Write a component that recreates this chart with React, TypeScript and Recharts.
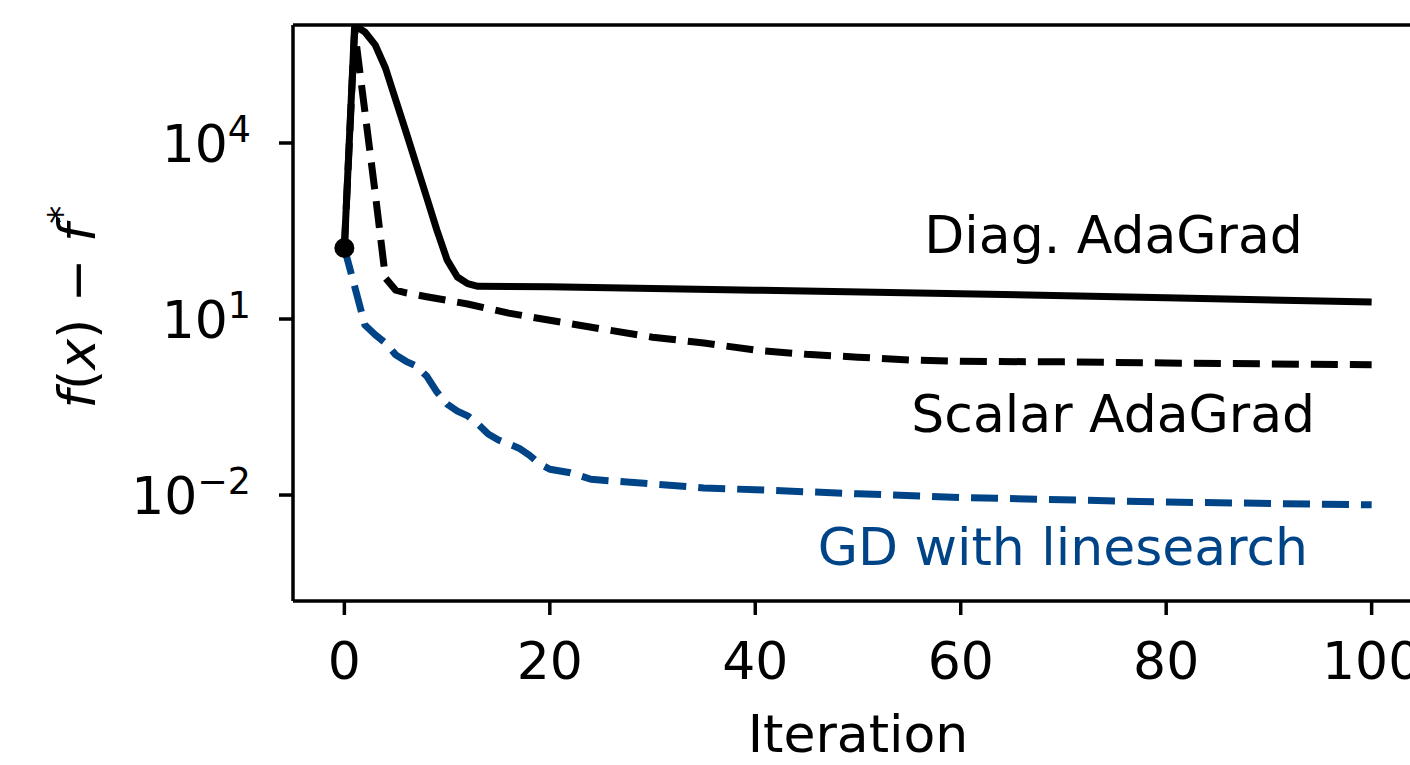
import React from "react";
import { LineChart, Line, XAxis, YAxis, ReferenceLine, ReferenceDot } from "recharts";

const FONT = "DejaVu Sans, Liberation Sans, sans-serif";
const BLUE = "#004488";
const FS = 52;

// iteration / f(x) - f* pairs
const diagIter = [0, 1, 2, 3, 4, 5, 6, 7, 8, 9, 10, 11, 12, 13, 20, 40, 60, 80, 100];
const diagGap = [162, 1.0e6, 7.8e5, 4.7e5, 1.9e5, 5.4e4, 1.55e4, 4.3e3, 1.2e3, 330, 102, 52, 40, 36, 35.5, 31, 27, 23, 19.5];

const scalarIter = [0, 1, 2, 3, 4, 5, 6, 8, 12, 16, 20, 25, 30, 35, 40, 45, 50, 55, 60, 70, 80, 100];
const scalarGap = [162, 8.3e5, 3.4e4, 1.4e3, 50, 31, 28, 24, 18, 12.6, 9.5, 6.8, 4.9, 3.9, 2.95, 2.5, 2.24, 2.0, 1.9, 1.86, 1.78, 1.66];

const gdIter = [0, 1, 2, 3, 4, 5, 6, 7, 8, 9, 10, 11, 12, 13, 14, 15, 16, 17, 18, 19, 20, 22, 24, 26, 30, 35, 40, 50, 60, 80, 100];
const gdGap = [162, 36, 7.9, 5.4, 3.9, 2.45, 1.9, 1.58, 1.07, 0.575, 0.355, 0.27, 0.224, 0.162, 0.11, 0.087, 0.074, 0.063, 0.048, 0.034, 0.0275, 0.024, 0.0186, 0.0174, 0.0155, 0.0132, 0.0123, 0.0105, 0.0091, 0.0076, 0.0068];

const xTicks = [0, 20, 40, 60, 80, 100];
const yTicks = [1e-2, 1e1, 1e4];
const yExp = ["−2", "1", "4"];

const X_DOMAIN = [-5, 105];
const Y_MIN = Math.pow(10, -3.806);
const Y_MAX = Math.pow(10, 6.011);

const toRows = (xs: number[], ys: number[]) => xs.map((x, i) => ({ x, y: ys[i] }));
const diagData = toRows(diagIter, diagGap);
const scalarData = toRows(scalarIter, scalarGap);
const gdData = toRows(gdIter, gdGap);

const XTick = ({ x, y, payload }: any) => (
  <text x={x} y={y + 64} textAnchor="middle" fontSize={FS} fontFamily={FONT} fill="#000">
    {payload.value}
  </text>
);

const YTick = ({ x, y, payload }: any) => {
  const i = yTicks.indexOf(payload.value);
  return (
    <text x={x - 28} y={y + 19} textAnchor="end" fontSize={FS} fontFamily={FONT} fill="#000">
      10
      <tspan dy={-20} fontSize={FS * 0.7}>
        {yExp[i]}
      </tspan>
    </text>
  );
};

const textLabel = (text: string, color: string) => (p: any) => {
  const vb = p.viewBox || {};
  return (
    <text x={vb.x} y={vb.y} textAnchor="end" fontSize={FS} fontFamily={FONT} fill={color}>
      {text}
    </text>
  );
};

const YLabel = () => (
  <text transform="translate(95,307) rotate(-90)" textAnchor="middle" fontSize={FS} fontFamily={FONT} fill="#000">
    <tspan fontStyle="italic">f</tspan>(<tspan fontStyle="italic">x</tspan>) − <tspan fontStyle="italic">f</tspan>
    <tspan dy={-20} fontSize={FS * 0.7}>*</tspan>
  </text>
);

const XLabel = () => (
  <text x={858} y={752} textAnchor="middle" fontSize={FS} fontFamily={FONT} fill="#000">
    Iteration
  </text>
);

export default function App() {
  return (
    <div style={{ position: "absolute", left: 0, top: 0, width: 1410, height: 765, overflow: "hidden", background: "#fff" }}>
      <LineChart width={1440} height={765} margin={{ top: 25, right: 17, bottom: 0, left: 0 }}>
        <XAxis
          type="number"
          dataKey="x"
          domain={X_DOMAIN}
          ticks={xTicks}
          height={164}
          stroke="#000"
          strokeWidth={3.5}
          tickSize={14}
          tickMargin={0}
          tick={<XTick />}
          label={{ content: () => <XLabel /> }}
          allowDataOverflow
        />
        <YAxis
          type="number"
          dataKey="y"
          scale="log"
          domain={[Y_MIN, Y_MAX]}
          ticks={yTicks}
          width={293}
          stroke="#000"
          strokeWidth={3.5}
          tickSize={14}
          tickMargin={0}
          tick={<YTick />}
          label={{ content: () => <YLabel /> }}
          allowDataOverflow
        />
        <ReferenceLine y={Y_MAX} stroke="#000" strokeWidth={3.5} />
        <Line
          data={gdData}
          dataKey="y"
          stroke={BLUE}
          strokeWidth={7}
          strokeDasharray="27 12"
          strokeLinejoin="round"
          dot={false}
          isAnimationActive={false}
        />
        <Line
          data={scalarData}
          dataKey="y"
          stroke="#000"
          strokeWidth={7}
          strokeDasharray="27 12"
          strokeLinejoin="round"
          dot={false}
          isAnimationActive={false}
        />
        <Line
          data={diagData}
          dataKey="y"
          stroke="#000"
          strokeWidth={7}
          strokeLinejoin="round"
          dot={false}
          isAnimationActive={false}
        />
        <ReferenceDot x={diagIter[0]} y={diagGap[0]} r={10} fill="#000" stroke="none" />
        <ReferenceDot x={93.3} y={Math.pow(10, 2.125)} r={0} fill="none" stroke="none" label={{ content: textLabel("Diag. AdaGrad", "#000") }} />
        <ReferenceDot x={94.5} y={Math.pow(10, -0.926)} r={0} fill="none" stroke="none" label={{ content: textLabel("Scalar AdaGrad", "#000") }} />
        <ReferenceDot x={93.8} y={Math.pow(10, -3.193)} r={0} fill="none" stroke="none" label={{ content: textLabel("GD with linesearch", BLUE) }} />
      </LineChart>
    </div>
  );
}
